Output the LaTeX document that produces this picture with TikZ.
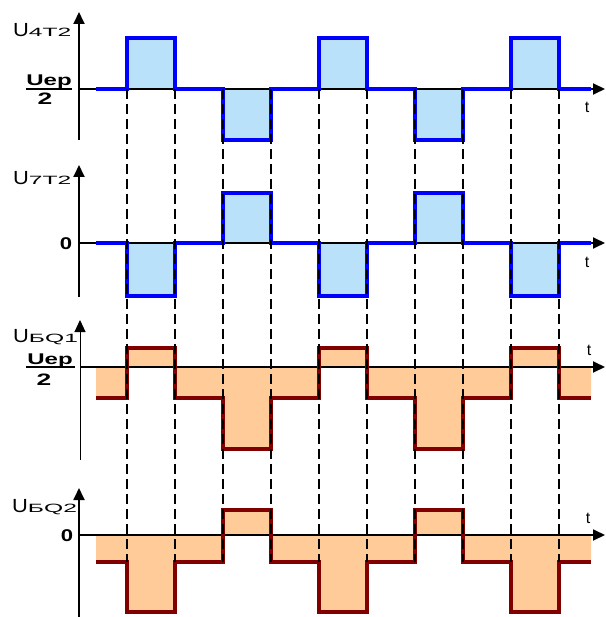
\documentclass[tikz,border=0pt]{standalone}
\usepackage{fontspec}
\setmainfont{Liberation Sans}
\usetikzlibrary{arrows.meta}
\definecolor{wblue}{RGB}{0,0,255}
\definecolor{lblue}{RGB}{185,226,250}
\definecolor{wmaroon}{RGB}{128,0,0}
\definecolor{lorange}{RGB}{255,204,153}
\newcommand{\ulab}[1]{{\fontsize{19}{19}\selectfont\scalebox{1.15}[1]{U}}{\fontsize{12}{12}\selectfont\scalebox{2.05}[1]{#1}}}
\newcommand{\fracnum}{{\fontsize{15.5}{15.5}\selectfont\bfseries\scalebox{1.55}[1]{Uep}}}
\newcommand{\fracden}{{\fontsize{16.5}{16.5}\selectfont\bfseries\scalebox{1.6}[1]{2}}}
\newcommand{\zerolab}{{\fontsize{17}{17}\selectfont\bfseries\scalebox{1.3}[1]{0}}}
\tikzset{
  axisline/.style={line width=1.8pt, -{Triangle[length=12pt,width=11pt]}},
  thinaxis/.style={line width=1pt, -{Triangle[length=12pt,width=11pt]}},
  bluewave/.style={wblue, line width=3.3pt},
  redwave/.style={wmaroon, line width=3.3pt},
  bluefill/.style={fill=lblue, draw=none},
  redfill/.style={fill=lorange, draw=none},
  guide/.style={black, line width=2.2pt, dash pattern=on 10pt off 5pt},
  lbl/.style={inner sep=0pt, anchor=base west},
  tlab/.style={font=\fontsize{16}{16}\selectfont, inner sep=0pt},
  fbar/.style={line width=1.6pt}
}
\begin{document}
\begin{tikzpicture}[x=1pt,y=-1pt]
\useasboundingbox (0,0) rectangle (605,617);
% ---------- fills ----------
\foreach \a in {127,319,511} \fill[bluefill] (\a,38) rectangle ++(48,51);
\foreach \a in {223,415} \fill[bluefill] (\a,89) rectangle ++(48,51);
\foreach \a in {223,415} \fill[bluefill] (\a,193) rectangle ++(48,50);
\foreach \a in {127,319,511} \fill[bluefill] (\a,243) rectangle ++(48,53);
\fill[redfill] (96,398) -- (127,398) -- (127,348) -- (175,348) -- (175,398) -- (223,398) -- (223,449) -- (271,449) -- (271,398) -- (319,398) -- (319,348) -- (367,348) -- (367,398) -- (415,398) -- (415,449) -- (463,449) -- (463,398) -- (511,398) -- (511,348) -- (559,348) -- (559,398) -- (591,398) -- (591,367) -- (96,367) -- cycle;
\fill[redfill] (96,562) -- (127,562) -- (127,612) -- (175,612) -- (175,562) -- (223,562) -- (223,510) -- (271,510) -- (271,562) -- (319,562) -- (319,612) -- (367,612) -- (367,562) -- (415,562) -- (415,510) -- (463,510) -- (463,562) -- (511,562) -- (511,612) -- (559,612) -- (559,562) -- (591,562) -- (591,535) -- (96,535) -- cycle;
% ---------- axes ----------
\coordinate (o1) at (79,89);  \coordinate (o2) at (79,243);
\coordinate (o3) at (80,367); \coordinate (o4) at (79,535);
\draw[axisline] (79,140) -- (79,12);
\draw[axisline] (o1) -- (605,89);
\draw[axisline] (79,297) -- (79,165);
\draw[axisline] (o2) -- (605,243);
\draw[thinaxis] (80,460) -- (80,320);
\draw[axisline] (o3) -- (605,367);
\draw[axisline] (79,617) -- (79,488);
\draw[axisline] (o4) -- (605,535);
% ---------- waveforms ----------
\draw[bluewave] (96,89) -- (127,89) -- (127,38) -- (175,38) -- (175,89) -- (223,89) -- (223,140) -- (271,140) -- (271,89) -- (319,89) -- (319,38) -- (367,38) -- (367,89) -- (415,89) -- (415,140) -- (463,140) -- (463,89) -- (511,89) -- (511,38) -- (559,38) -- (559,89) -- (591,89);
\draw[bluewave] (96,243) -- (127,243) -- (127,296) -- (175,296) -- (175,243) -- (223,243) -- (223,193) -- (271,193) -- (271,243) -- (319,243) -- (319,296) -- (367,296) -- (367,243) -- (415,243) -- (415,193) -- (463,193) -- (463,243) -- (511,243) -- (511,296) -- (559,296) -- (559,243) -- (591,243);
\draw[redwave] (96,398) -- (127,398) -- (127,348) -- (175,348) -- (175,398) -- (223,398) -- (223,449) -- (271,449) -- (271,398) -- (319,398) -- (319,348) -- (367,348) -- (367,398) -- (415,398) -- (415,449) -- (463,449) -- (463,398) -- (511,398) -- (511,348) -- (559,348) -- (559,398) -- (591,398);
\draw[redwave] (96,562) -- (127,562) -- (127,612) -- (175,612) -- (175,562) -- (223,562) -- (223,510) -- (271,510) -- (271,562) -- (319,562) -- (319,612) -- (367,612) -- (367,562) -- (415,562) -- (415,510) -- (463,510) -- (463,562) -- (511,562) -- (511,612) -- (559,612) -- (559,562) -- (591,562);
% ---------- dashed guides ----------
\foreach \a in {127,175,...,559} \draw[guide] (\a,89) -- (\a,562);
% ---------- labels ----------
\node[lbl] (l1) at (13,37) {\ulab{4T2}};
\node[lbl] (l2) at (13,185) {\ulab{7T2}};
\node[lbl] (l3) at (13,342) {\ulab{БQ1}};
\node[lbl] (l4) at (12,512) {\ulab{БQ2}};
\node[inner sep=0pt, anchor=base] (n1) at (49,86) {\fracnum};
\draw[fbar] (26,89) -- (72,89);
\node[inner sep=0pt, anchor=base] (d1) at (45,105) {\fracden};
\node[inner sep=0pt, anchor=base] (n3) at (50,364) {\fracnum};
\draw[fbar] (26,367) -- (75,367);
\node[inner sep=0pt, anchor=base] (d3) at (44,385) {\fracden};
\node[inner sep=0pt] (z2) at (66,244) {\zerolab};
\node[inner sep=0pt] (z4) at (67,536) {\zerolab};
\node[tlab] (t1) at (587,107) {t};
\node[tlab] (t2) at (587,262) {t};
\node[tlab] (t3) at (589,350) {t};
\node[tlab] (t4) at (588,518) {t};
\end{tikzpicture}
\end{document}
